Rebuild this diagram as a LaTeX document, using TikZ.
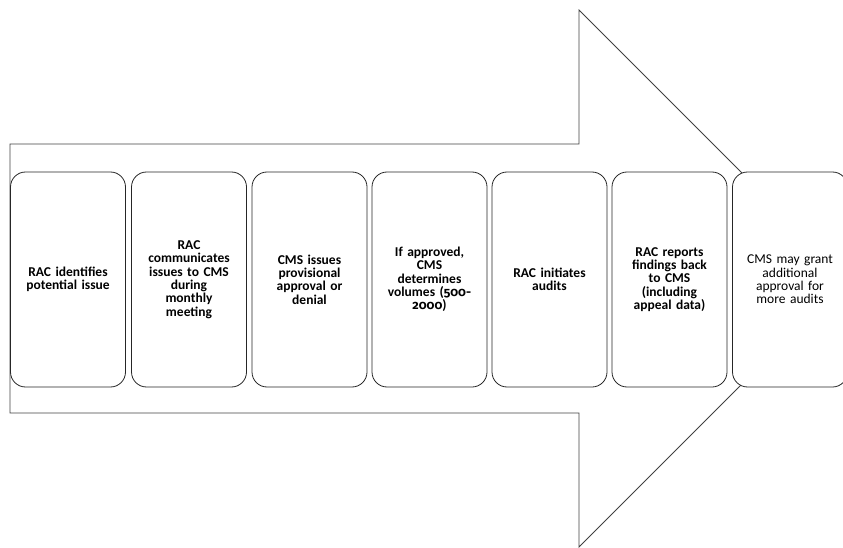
\documentclass[tikz,border=0pt]{standalone}
\usepackage{fontspec}
\setmainfont{Carlito}
\newfontfamily\osfig{Fira Sans}[Numbers=OldStyle]
\begin{document}
\begin{tikzpicture}[x=1pt,y=-1pt,
  stepbox/.style={draw=black!85, fill=white, line width=0.8pt, rounded corners=15pt,
    minimum width=115pt, minimum height=215pt, inner sep=0pt,
    text width=110pt, align=center, font=\fontsize{13.5}{13.3}\selectfont\bfseries},
  lastbox/.style={stepbox, font=\fontsize{13.5}{13.3}\selectfont},
  bigarrow/.style={draw=black!75, line width=0.8pt}]
\useasboundingbox (0,0) rectangle (843,548);
\clip (0,0) rectangle (843,548);
\draw[bigarrow] (10,144) -- (579,144) -- (579,10) -- (847.5,278.5) -- (579,547) -- (579,413) -- (10,413) -- cycle;
\node[stepbox] (s1) at (68,279.5) {RAC identifies\\potential issue};
\node[stepbox] (s2) at (189,279.5) {RAC\\communicates\\issues to CMS\\during\\monthly\\meeting};
\node[stepbox] (s3) at (309.5,279.5) {CMS issues\\provisional\\approval or\\denial};
\node[stepbox] (s4) at (429.5,279.5) {If approved,\\CMS\\determines\\volumes ({\osfig\fontsize{12.5}{13.3}\selectfont 500-}\\{\osfig\fontsize{12.5}{13.3}\selectfont 2000})};
\node[stepbox] (s5) at (549.5,279.5) {RAC initiates\\audits};
\node[stepbox] (s6) at (669.5,279.5) {RAC reports\\findings back\\to CMS\\(including\\appeal data)};
\node[lastbox] (s7) at (790,279.5) {CMS may grant\\additional\\approval for\\more audits};
\end{tikzpicture}
\end{document}
